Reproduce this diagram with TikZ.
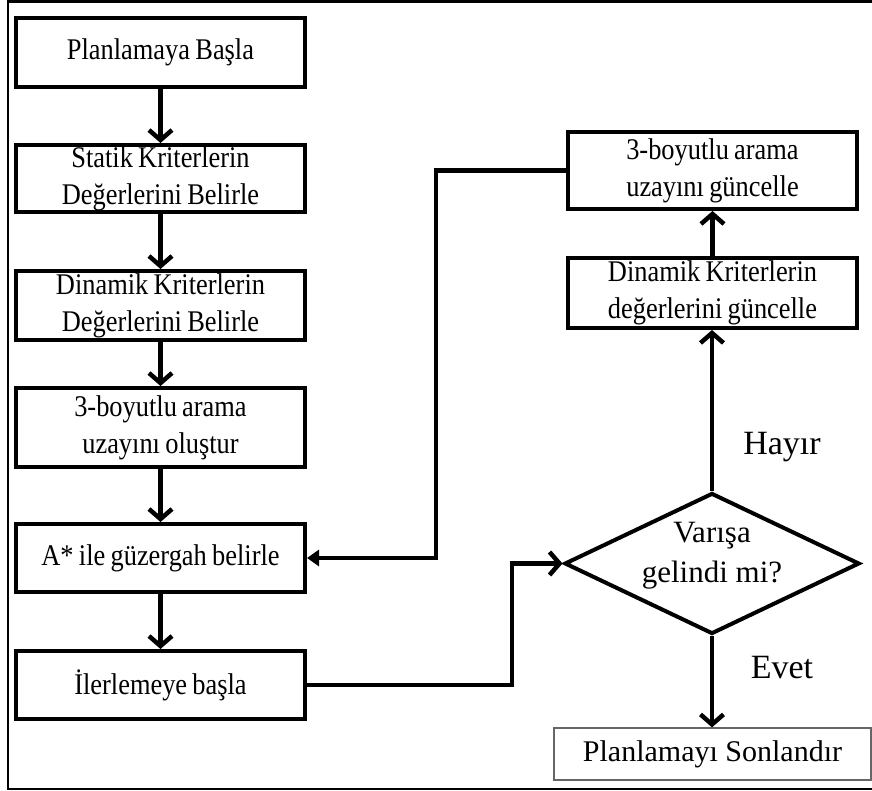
\documentclass[tikz,border=0pt]{standalone}
\usepackage{fontspec}
\setmainfont{Liberation Serif}
\newfontfamily\cfont{Liberation Serif}[FakeStretch=0.88,WordSpace=0.8]
\usetikzlibrary{arrows.meta,shapes.geometric}
\tikzset{
  cbox/.style={draw, line width=4pt, minimum width=289pt, inner sep=0pt, align=center,
    font=\cfont\fontsize{30}{37}\selectfont},
  arr/.style={line width=4.5pt, -{Straight Barb[length=10pt,width=23pt,line width=4.5pt]}},
  farr/.style={line width=4.5pt, -{Triangle[length=12pt,width=16pt]}},
  lab/.style={font=\fontsize{34}{40}\selectfont, inner sep=0pt}
}
\begin{document}
\begin{tikzpicture}[x=1pt,y=-1pt]
\useasboundingbox (0,0) rectangle (872,791);
\draw[line width=2.8pt] (872,1.5) -- (8,1.5) -- (8,789) -- (872,789);
\node[cbox, minimum height=69pt] (b1) at (160.5,52.5) {Planlamaya Başla};
\node[cbox, minimum height=67pt] (b2) at (160.5,178.5) {Statik Kriterlerin\\Değerlerini Belirle};
\node[cbox, minimum height=69pt] (b3) at (160.5,305.5) {Dinamik Kriterlerin\\Değerlerini Belirle};
\node[cbox, minimum height=79pt] (b4) at (160.5,427.5) {3-boyutlu arama\\uzayını oluştur};
\node[cbox, minimum height=68pt] (b5) at (160.5,558) {A* ile güzergah belirle};
\node[cbox, minimum height=68pt] (b6) at (160.5,685) {İlerlemeye başla};
\node[cbox, minimum height=77pt] (r1) at (712.5,170.5) {3-boyutlu arama\\uzayını güncelle};
\node[cbox, minimum height=70pt] (r2) at (712.5,293) {Dinamik Kriterlerin\\değerlerini güncelle};
\node[diamond, draw, line width=4pt, minimum width=295pt, minimum height=141pt, inner sep=0pt] (d) at (712,563.5) {};
\node[align=center, inner sep=0pt, font=\fontsize{31}{40}\selectfont] (dt) at (712,556) {Varışa\\gelindi mi?};
\node[draw=black!60, line width=1.2pt, minimum width=317pt, minimum height=52pt, inner sep=0pt,
  font=\fontsize{30}{36}\selectfont] (fin) at (712.5,754) {Planlamayı Sonlandır};
\node[lab] (hayir) at (782,447) {Hayır};
\node[lab] (evet) at (782,668) {Evet};
\coordinate (k1) at (436,0);
\coordinate (k2) at (512,0);
\draw[arr] (b1) -- (b2);
\draw[arr] (b2) -- (b3);
\draw[arr] (b3) -- (b4);
\draw[arr] (b4) -- (b5);
\draw[arr] (b5) -- (b6);
\draw[arr] (r2) -- (r1);
\draw[arr] (d.north) -- (d.north |- r2.south);
\draw[arr] (d.south) -- (d.south |- fin.north);
\draw[farr] (r1.west) -- (r1.west -| k1) -- (k1 |- b5.east) -- (b5.east);
\draw[arr] (b6.east) -- (b6.east -| k2) -- (k2 |- d.west) -- (d.west);
\end{tikzpicture}
\end{document}
